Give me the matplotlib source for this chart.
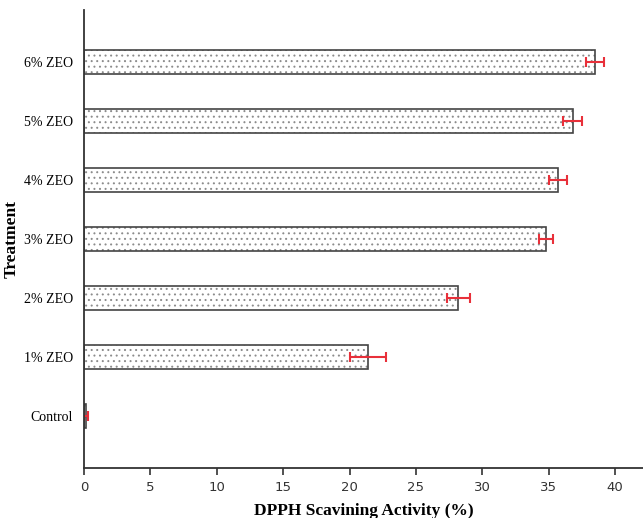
import numpy as np
import matplotlib.pyplot as plt

plt.rcParams['font.family'] = ['Liberation Serif', 'DejaVu Serif']
plt.rcParams['hatch.linewidth'] = 0.7

treatments = ['Control', '1% ZEO', '2% ZEO', '3% ZEO', '4% ZEO', '5% ZEO', '6% ZEO']
activity = [0.15, 21.4, 28.2, 34.8, 35.7, 36.8, 38.5]
errors = [0.15, 1.35, 0.85, 0.55, 0.7, 0.7, 0.7]

fig = plt.figure(figsize=(6.43, 5.18), dpi=100)
ax = fig.add_axes([0.1306, 0.0965, 0.8694, 0.884])

y = np.arange(len(treatments))
# dotted fill, then outline on top
ax.barh(y, activity, height=0.4, color='white', edgecolor='#8c8c8c',
        linewidth=0, hatch='...')
ax.barh(y, activity, height=0.4, color='none', edgecolor='#444444', linewidth=1.2)
ax.errorbar(activity, y, xerr=errors, fmt='none', ecolor='#e8303a',
            elinewidth=1.5, capsize=3.5, capthick=1.5)

ax.set_yticks(y)
ax.set_yticklabels(treatments, fontsize=10)
ax.set_ylim(-0.88, 6.88)
ax.set_xlim(0, 42.1)
ax.set_xticks(np.arange(0, 45, 5))
ax.set_xticklabels([str(v) for v in range(0, 45, 5)], family='DejaVu Sans', fontsize=9.5)
ax.tick_params(axis='x', length=5, width=1.2, colors='#333333', pad=4)
ax.tick_params(axis='y', length=0, pad=8)
ax.spines['top'].set_visible(False)
ax.spines['right'].set_visible(False)
ax.spines['left'].set_linewidth(1.3)
ax.spines['bottom'].set_linewidth(1.3)
ax.spines['left'].set_color('#333333')
ax.spines['bottom'].set_color('#333333')

ax.set_xlabel('DPPH Scavining Activity (%)', fontsize=12.5, fontweight='bold', labelpad=7)
ax.set_ylabel('Treatment', fontsize=12.5, fontweight='bold', labelpad=3)

fig.savefig('out.png', dpi=100)
